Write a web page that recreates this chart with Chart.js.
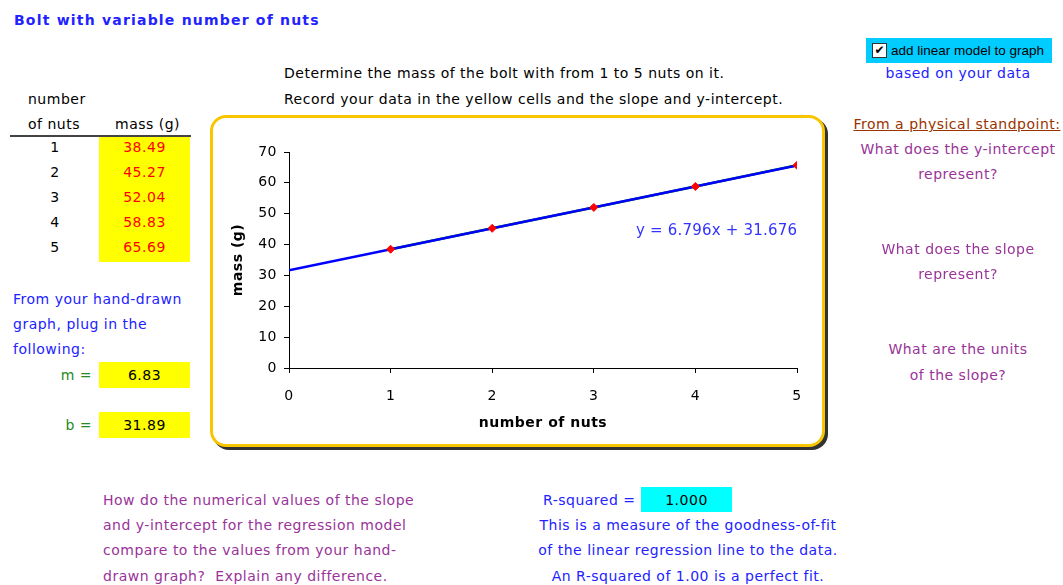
<!DOCTYPE html>
<html>
<head>
<meta charset="utf-8">
<script src="https://cdn.jsdelivr.net/npm/chart.js@4/dist/chart.umd.min.js"></script>
<style>
  html, body { margin:0; padding:0; background:#fff; }
  body { width:1063px; height:585px; position:relative; overflow:hidden;
         font-family:"DejaVu Sans", sans-serif; font-size:14px; letter-spacing:0.5px; }
  .t { position:absolute; white-space:nowrap; line-height:25px; height:25px; }
  .c { text-align:center; }
  .r { text-align:right; }
  .blue { color:#2222ff; }
  .purple { color:#993399; }
  .green { color:#228B22; }
  .red { color:#ff0000; }
  .cell { position:absolute; }
  #frame { position:absolute; left:210px; top:115px; width:609px; height:326px;
           border:3px solid #f7c600; border-radius:16px; box-shadow:3px 3px 0 #333; background:#fff; }
  #wrap { position:absolute; left:213px; top:118px; width:609px; height:326px; }
</style>
</head>
<body>
<div class="t blue" style="left:14px;top:8px;font-weight:bold;font-size:14px;letter-spacing:1.2px;">Bolt with variable number of nuts</div>

<div class="t" style="left:284px;top:61px;">Determine the mass of the bolt with from 1 to 5 nuts on it.</div>
<div class="t" style="left:284px;top:87px;">Record your data in the yellow cells and the slope and y-intercept.</div>

<div class="t" style="left:28px;top:87px;">number</div>
<div class="t" style="left:28px;top:112px;">of nuts</div>
<div class="t" style="left:115px;top:112px;">mass (g)</div>
<div style="position:absolute;left:10px;top:135px;width:181px;height:2px;background:#444;"></div>
<div id="table"></div>

<div class="t blue" style="left:13px;top:287px;">From your hand-drawn</div>
<div class="t blue" style="left:13px;top:312px;">graph, plug in the</div>
<div class="t blue" style="left:13px;top:337px;">following:</div>
<div class="t green r" style="left:40px;width:52px;top:363px;">m =</div>
<div class="cell" style="left:99px;top:362px;width:91px;height:26px;background:#ffff00;"></div>
<div class="t c" id="mval" style="left:99px;width:91px;top:363px;"></div>
<div class="t green r" style="left:40px;width:52px;top:413px;">b =</div>
<div class="cell" style="left:99px;top:412px;width:91px;height:26px;background:#ffff00;"></div>
<div class="t c" id="bval" style="left:99px;width:91px;top:413px;"></div>

<div id="frame"></div>
<div id="wrap"><canvas id="chart" width="609" height="326"></canvas></div>
<div class="t blue" id="eq" style="left:636px;top:218px;font-size:15px;letter-spacing:0.2px;color:#3333ff;"></div>

<div class="cell" style="left:866px;top:38px;width:186px;height:25px;background:#00ccff;"></div>
<div class="cell" style="left:872px;top:43px;width:13px;height:13px;border:1px solid #333;background:#fff;font-size:12px;line-height:13px;text-align:center;font-weight:bold;letter-spacing:0;">&#10004;</div>
<div class="t" style="left:891px;top:38px;font-family:'Liberation Sans',sans-serif;font-size:13.5px;letter-spacing:0;">add linear model to graph</div>
<div class="t blue c" style="left:858px;width:200px;top:61px;">based on your data</div>

<div class="t c" style="left:852px;width:210px;top:112px;color:#993300;text-decoration:underline;">From a physical standpoint:</div>
<div class="t purple c" style="left:852px;width:212px;top:137px;">What does the y-intercept</div>
<div class="t purple c" style="left:852px;width:212px;top:162px;">represent?</div>
<div class="t purple c" style="left:852px;width:212px;top:237px;">What does the slope</div>
<div class="t purple c" style="left:852px;width:212px;top:262px;">represent?</div>
<div class="t purple c" style="left:852px;width:212px;top:337px;">What are the units</div>
<div class="t purple c" style="left:852px;width:212px;top:363px;">of the slope?</div>

<div class="t purple" style="left:103px;top:488px;">How do the numerical values of the slope</div>
<div class="t purple" style="left:103px;top:513px;">and y-intercept for the regression model</div>
<div class="t purple" style="left:103px;top:538px;">compare to the values from your hand-</div>
<div class="t purple" style="left:103px;top:564px;">drawn graph?&nbsp; Explain any difference.</div>

<div class="t blue" style="left:543px;top:488px;">R-squared =</div>
<div class="cell" style="left:641px;top:487px;width:91px;height:25px;background:#00ffff;"></div>
<div class="t c" id="rval" style="left:641px;width:91px;top:488px;"></div>
<div class="t blue c" style="left:524px;width:328px;top:513px;">This is a measure of the goodness-of-fit</div>
<div class="t blue c" style="left:524px;width:328px;top:538px;">of the linear regression line to the data.</div>
<div class="t blue c" style="left:524px;width:328px;top:564px;">An R-squared of 1.00 is a perfect fit.</div>

<script>
// ---- data ----
const nuts = [1, 2, 3, 4, 5];
const massG = [38.49, 45.27, 52.04, 58.83, 65.69];
const handSlope = 6.83;
const handIntercept = 31.89;
const xTicks = [0, 1, 2, 3, 4, 5];
const yTicks = [0, 10, 20, 30, 40, 50, 60, 70];

// ---- least squares regression from the data ----
const n = nuts.length;
const mx = nuts.reduce((a, b) => a + b, 0) / n;
const my = massG.reduce((a, b) => a + b, 0) / n;
let sxy = 0, sxx = 0, syy = 0;
for (let i = 0; i < n; i++) {
  sxy += (nuts[i] - mx) * (massG[i] - my);
  sxx += (nuts[i] - mx) ** 2;
  syy += (massG[i] - my) ** 2;
}
const slope = sxy / sxx;
const intercept = my - slope * mx;
const r2 = (sxy * sxy) / (sxx * syy);

// ---- table & text cells ----
const tbl = document.getElementById('table');
nuts.forEach((k, i) => {
  const top = 135 + i * 25;
  tbl.insertAdjacentHTML('beforeend',
    `<div class="t c" style="left:30px;width:50px;top:${top}px;">${k}</div>` +
    `<div class="cell" style="left:99px;top:${top + 2}px;width:91px;height:25px;background:#ffff00;"></div>` +
    `<div class="t c red" style="left:99px;width:91px;top:${top}px;">${massG[i].toFixed(2)}</div>`);
});
document.getElementById('mval').textContent = handSlope.toFixed(2);
document.getElementById('bval').textContent = handIntercept.toFixed(2);
document.getElementById('rval').textContent = r2.toFixed(3);
document.getElementById('eq').textContent = `y = ${slope.toFixed(3)}x + ${intercept.toFixed(3)}`;

// ---- chart ----
const dataPts = nuts.map((x, i) => ({ x: x, y: massG[i] }));
const trendPts = [xTicks[0], xTicks[xTicks.length - 1]].map(x => ({ x: x, y: slope * x + intercept }));
const fontFam = '"DejaVu Sans", sans-serif';

new Chart(document.getElementById('chart'), {
  type: 'scatter',
  data: {
    datasets: [
      { label: 'points', data: dataPts, showLine: false, pointStyle: 'rectRot',
        pointRadius: 4, backgroundColor: '#ff0000', borderColor: '#ff0000', borderWidth: 1 },
      { label: 'trend', data: trendPts, showLine: true, pointRadius: 0,
        borderColor: '#0000ff', borderWidth: 2.5 },
      { label: 'data line', data: dataPts, showLine: true, pointRadius: 0,
        borderColor: '#008000', borderWidth: 2.5 }
    ]
  },
  options: {
    responsive: false,
    animation: false,
    layout: { padding: { left: 0, top: 34, right: 25, bottom: 0 } },
    plugins: { legend: { display: false }, tooltip: { enabled: false } },
    scales: {
      x: {
        type: 'linear', min: xTicks[0], max: xTicks[xTicks.length - 1],
        afterBuildTicks: s => { s.ticks = xTicks.map(v => ({ value: v })); },
        afterFit: s => { s.height = 76; },
        grid: { display: true, drawOnChartArea: false, drawTicks: true, tickLength: 5, color: '#000' },
        border: { display: true, color: '#000', width: 1 },
        ticks: { color: '#000', padding: 15, font: { family: fontFam, size: 14 }, maxRotation: 0 },
        title: { display: true, text: 'number of nuts', color: '#000',
                 font: { family: fontFam, size: 14, weight: 'bold' }, padding: { top: 0, bottom: 12 } }
      },
      y: {
        type: 'linear', min: yTicks[0], max: yTicks[yTicks.length - 1],
        afterBuildTicks: s => { s.ticks = yTicks.map(v => ({ value: v })); },
        afterFit: s => { s.width = 76; },
        grid: { display: true, drawOnChartArea: false, drawTicks: true, tickLength: 5, color: '#000' },
        border: { display: true, color: '#000', width: 1 },
        ticks: { color: '#000', padding: 7, font: { family: fontFam, size: 14 } },
        title: { display: true, text: 'mass (g)', color: '#000',
                 font: { family: fontFam, size: 14, weight: 'bold' }, padding: { top: 17, bottom: 0 } }
      }
    }
  }
});
</script>
</body>
</html>
